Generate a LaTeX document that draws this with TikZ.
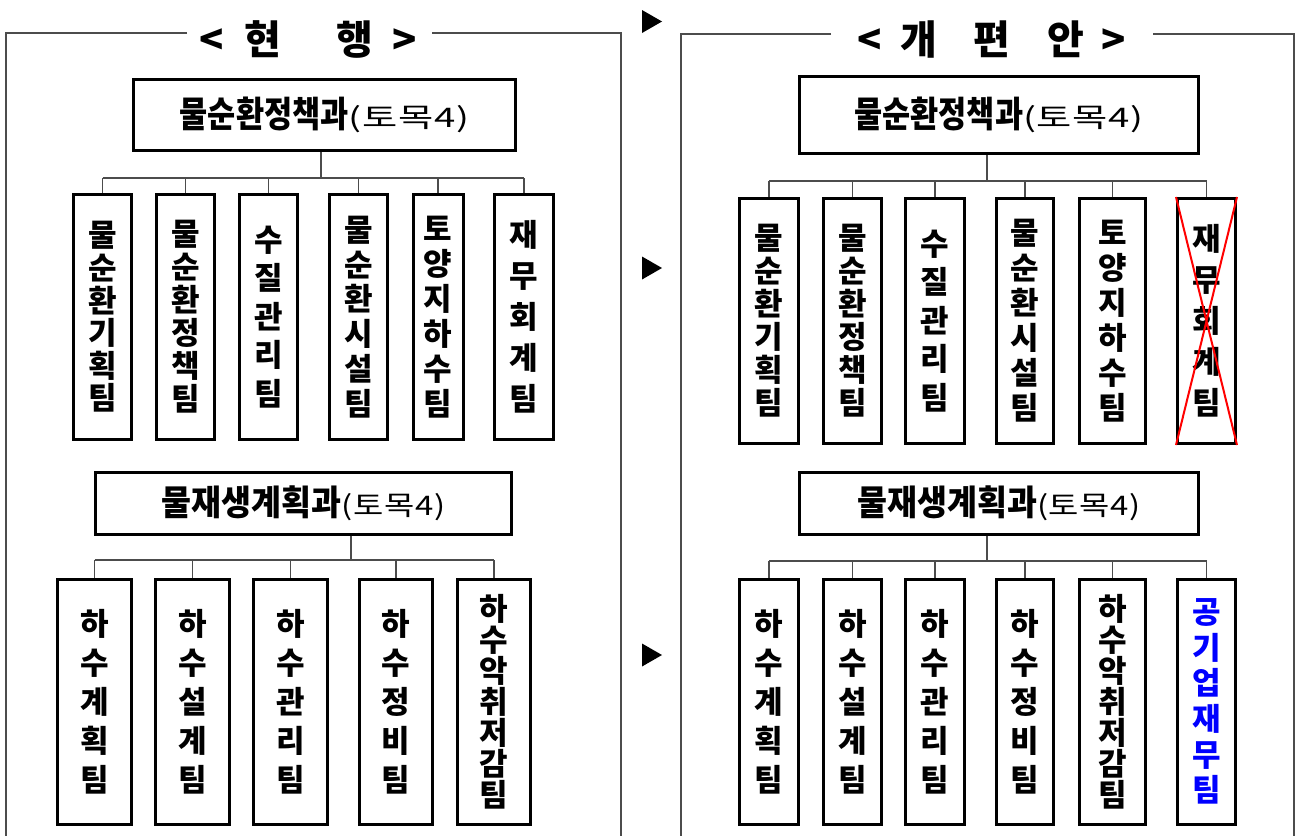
\documentclass[tikz,border=0pt]{standalone}
\usepackage{fontspec}
\newfontfamily\kr{Noto Sans CJK KR}
\usetikzlibrary{calc}
\newcommand\krb{\kr\bfseries}
\newcommand\ttlA[3]{\scalebox{#1}[1]{\krb\fontsize{#2}{40pt}\selectfont #3}}
\newcommand\ttlP[1]{\scalebox{#1}[1]{\kr\fontsize{27pt}{30pt}\selectfont (\kern0.5pt 토\kern0.5pt 목\kern0.5pt 4\kern0.5pt)}}
\begin{document}
\begin{tikzpicture}[x=1pt,y=-1pt,
  team/.style={draw, line width=3pt, minimum width=#1, minimum height=245pt, inner sep=0pt, align=center},
  team/.default=58pt,
  pitch/.style={font={\krb\fontsize{31pt}{#1}\selectfont}},
  titlebox/.style={draw, line width=3pt, inner sep=0pt},
  conn/.style={draw=black!70, line width=1.1pt},
  frame/.style={draw=black!70, line width=1.4pt},
  hdr/.style={font={\krb\fontsize{40pt}{46pt}\selectfont}, inner sep=0pt, anchor=west},
  tri/.style={fill=black}
]
\useasboundingbox (0,0) rectangle (1298,836);

% frames
\draw[frame] (187,33) -- (6,33) -- (6,836);
\draw[frame] (432,33) -- (621,33) -- (621,836);
\draw[frame] (831,34) -- (681,34) -- (681,836);
\draw[frame] (1153,34) -- (1294,34) -- (1294,836);

% headers
\node[hdr] (h1) at (200,39) {\makebox[23pt]{<}\hspace{24pt}\makebox[31pt]{현}\hspace{60pt}\makebox[34pt]{행}\hspace{20pt}\makebox[25pt]{>}};
\node[hdr] (h2) at (857,39) {\makebox[24pt]{<}\hspace{24pt}\makebox[27pt]{개}\hspace{45pt}\makebox[30pt]{편}\hspace{43pt}\makebox[32pt]{안}\hspace{18pt}\makebox[27pt]{>}};

% arrows
\fill[tri] (642,10) -- (662,21.5) -- (642,33) -- cycle;
\fill[tri] (642,256.5) -- (662,268) -- (642,279.5) -- cycle;
\fill[tri] (642,643.5) -- (662,655) -- (642,666.5) -- cycle;

% titles
\node[titlebox, minimum width=382pt, minimum height=71pt] (tl) at (324.5,115) {\ttlA{0.85}{36pt}{물순환정책과}\ttlP{1.42}};
\node[titlebox, minimum width=399pt, minimum height=77pt] (tr) at (999,115) {\ttlA{0.85}{36pt}{물순환정책과}\ttlP{1.42}};
\node[titlebox, minimum width=416pt, minimum height=62pt] (bl) at (303.5,503) {\ttlA{0.93}{35pt}{물재생계획과}\ttlP{1.22}};
\node[titlebox, minimum width=399pt, minimum height=62pt] (br) at (999,503) {\ttlA{0.93}{35pt}{물재생계획과}\ttlP{1.22}};

% top-left teams
\node[team=58pt, pitch=32.6pt] (a1) at (102.5,317) {물\\순\\환\\기\\획\\팀};
\node[team=58pt, pitch=33pt] (a2) at (185.5,317) {물\\순\\환\\정\\책\\팀};
\node[team=58pt, pitch=38.5pt] (a3) at (268.5,317) {수\\질\\관\\리\\팀};
\node[team=58pt, pitch=34.8pt] (a4) at (358.5,317) {물\\순\\환\\시\\설\\팀};
\node[team=50pt, pitch=35pt] (a5) at (438,317) {토\\양\\지\\하\\수\\팀};
\node[team=59pt, pitch=41pt] (a6) at (524,317) {재\\무\\회\\계\\팀};

% top-right teams
\node[team=59pt, pitch=33pt] (b1) at (769,321) {물\\순\\환\\기\\획\\팀};
\node[team=58pt, pitch=33pt] (b2) at (852.5,321) {물\\순\\환\\정\\책\\팀};
\node[team=59pt, pitch=38.5pt] (b3) at (935,321) {수\\질\\관\\리\\팀};
\node[team=57pt, pitch=35pt] (b4) at (1025,321) {물\\순\\환\\시\\설\\팀};
\node[team=66pt, pitch=35pt] (b5) at (1112.5,321) {토\\양\\지\\하\\수\\팀};
\node[team=58pt, pitch=41pt] (b6) at (1206.5,321) {재\\무\\회\\계\\팀};
\draw[red, line width=2pt] (b6.north west) -- (b6.south east) (b6.north east) -- (b6.south west);

% bottom-left teams
\node[team=74pt, pitch=39pt] (c1) at (94.5,701.5) {하\\수\\계\\획\\팀};
\node[team=74pt, pitch=39pt] (c2) at (192.5,701.5) {하\\수\\설\\계\\팀};
\node[team=74pt, pitch=39pt] (c3) at (290.5,701.5) {하\\수\\관\\리\\팀};
\node[team=73pt, pitch=39pt] (c4) at (396,701.5) {하\\수\\정\\비\\팀};
\node[team=73pt, pitch=31pt] (c5) at (494,701.5) {하\\수\\악\\취\\저\\감\\팀};

% bottom-right teams
\node[team=59pt, pitch=39pt] (d1) at (769,701.5) {하\\수\\계\\획\\팀};
\node[team=58pt, pitch=39pt] (d2) at (852.5,701.5) {하\\수\\설\\계\\팀};
\node[team=59pt, pitch=39pt] (d3) at (935,701.5) {하\\수\\관\\리\\팀};
\node[team=57pt, pitch=39pt] (d4) at (1025,701.5) {하\\수\\정\\비\\팀};
\node[team=66pt, pitch=31pt] (d5) at (1112.5,701.5) {하\\수\\악\\취\\저\\감\\팀};
\node[team=58pt, pitch=35.6pt, text=blue] (d6) at (1206.5,701.5) {공\\기\\업\\재\\무\\팀};

% connectors
\coordinate (busA) at (0,178);
\coordinate (busB) at (0,181);
\coordinate (busC) at (0,560);
\coordinate (busD) at (0,561);
\draw[conn] ([xshift=-3.5pt]tl.south) -- ([xshift=-3.5pt]tl.south |- busA);
\draw[conn] (a1.north |- busA) -- (a6.north |- busA);
\foreach \n in {a1,a2,a3,a4,a5,a6} \draw[conn] (\n.north) -- (\n.north |- busA);
\draw[conn] ([xshift=-12pt]tr.south) -- ([xshift=-12pt]tr.south |- busB);
\draw[conn] (b1.north |- busB) -- (b6.north |- busB);
\foreach \n in {b1,b2,b3,b4,b5,b6} \draw[conn] (\n.north) -- (\n.north |- busB);
\draw[conn] ([xshift=47.5pt]bl.south) -- ([xshift=47.5pt]bl.south |- busC);
\draw[conn] (c1.north |- busC) -- (c5.north |- busC);
\foreach \n in {c1,c2,c3,c4,c5} \draw[conn] (\n.north) -- (\n.north |- busC);
\draw[conn] ([xshift=-12pt]br.south) -- ([xshift=-12pt]br.south |- busD);
\draw[conn] (d1.north |- busD) -- (d6.north |- busD);
\foreach \n in {d1,d2,d3,d4,d5,d6} \draw[conn] (\n.north) -- (\n.north |- busD);
\end{tikzpicture}
\end{document}
